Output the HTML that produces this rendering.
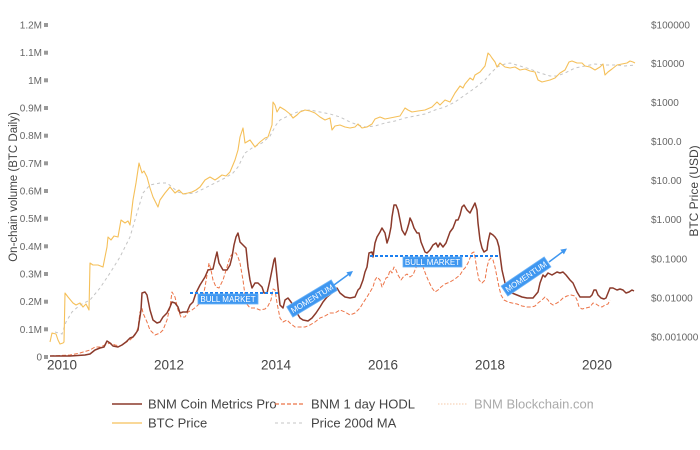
<!DOCTYPE html>
<html><head><meta charset="utf-8"><style>
html,body{margin:0;padding:0;background:#fff;}
svg{display:block;font-family:"Liberation Sans",Arial,sans-serif;}
</style></head><body>
<svg width="700" height="450" viewBox="0 0 700 450" xmlns="http://www.w3.org/2000/svg">
<defs><clipPath id="lc"><rect x="0" y="380" width="593" height="70"/></clipPath></defs>
<rect width="700" height="450" fill="#fff"/>

<!-- left ticks -->
<g font-size="10" fill="#666" text-anchor="end">
<text x="42" y="360.5">0</text>
<text x="42" y="332.8">0.1M</text>
<text x="42" y="305.2">0.2M</text>
<text x="42" y="277.5">0.3M</text>
<text x="42" y="249.8">0.4M</text>
<text x="42" y="222.2">0.5M</text>
<text x="42" y="194.5">0.6M</text>
<text x="42" y="166.8">0.7M</text>
<text x="42" y="139.2">0.8M</text>
<text x="42" y="111.5">0.9M</text>
<text x="42" y="83.8">1M</text>
<text x="42" y="56.2">1.1M</text>
<text x="42" y="28.5">1.2M</text>
</g>
<g fill="#999">
<rect x="44" y="355" width="4" height="4"/>
<rect x="44" y="327.3" width="4" height="4"/>
<rect x="44" y="299.7" width="4" height="4"/>
<rect x="44" y="272" width="4" height="4"/>
<rect x="44" y="244.3" width="4" height="4"/>
<rect x="44" y="216.7" width="4" height="4"/>
<rect x="44" y="189" width="4" height="4"/>
<rect x="44" y="161.3" width="4" height="4"/>
<rect x="44" y="133.7" width="4" height="4"/>
<rect x="44" y="106" width="4" height="4"/>
<rect x="44" y="78.3" width="4" height="4"/>
<rect x="44" y="50.7" width="4" height="4"/>
<rect x="44" y="23" width="4" height="4"/>
</g>
<text transform="translate(17,187) rotate(-90)" font-size="11.5" fill="#444" text-anchor="middle">On-chain volume (BTC Daily)</text>

<!-- right ticks -->
<g font-size="10" fill="#666">
<text x="651" y="28.5">$100000</text>
<text x="651" y="67">$10000</text>
<text x="651" y="106">$1000</text>
<text x="651" y="145">$100.0</text>
<text x="651" y="184">$10.00</text>
<text x="651" y="223">$1.000</text>
<text x="651" y="262.5">$0.1000</text>
<text x="651" y="301.5">$0.01000</text>
<text x="651" y="340.5">$0.001000</text>
</g>
<text transform="translate(698,191) rotate(-90)" font-size="12" fill="#444" text-anchor="middle">BTC Price (USD)</text>

<!-- x ticks -->
<g font-size="13.5" fill="#444" text-anchor="middle">
<text x="62" y="369.5">2010</text>
<text x="169" y="369.5">2012</text>
<text x="276" y="369.5">2014</text>
<text x="383" y="369.5">2016</text>
<text x="490" y="369.5">2018</text>
<text x="597" y="369.5">2020</text>
</g>

<!-- MA 200d -->
<polyline fill="none" stroke="#c4c4c4" stroke-width="1" stroke-dasharray="3,3" points="55,332 62,334 66,322 72,312 80,305 90,300 100,288 110,273 120,257 130,237 137,213 143,193 150,185 160,183 167,183 172,187 178,192 185,194 195,193 205,188 215,183 225,178 233,173 238,167 245,153 252,148 262,143 270,136 276,125 280,120 290,115 300,111 310,110 320,112 330,114 340,117 350,122 358,125 365,127 375,126 385,123 395,121 405,118 415,116 425,114 435,110 445,107 455,102 465,95 475,88 485,80 490,74 497,67 505,64 510,63 520,66 530,69 540,73 550,76 557,76 565,73 575,68 585,66 595,64 605,65 615,65 625,66 635,65"/>

<!-- BTC price -->
<polyline fill="none" stroke="#f5c05a" stroke-width="1.1" stroke-linejoin="round" points="50,342 52,333 56,334 58,340 60,344 63,343 64,342 65,293 68,297 73,303 76,305 80,303 83,307 86,304 88,308 89,310 90,263 93,265 98,265 103,267 107,247 108,237 111,240 114,236 118,237 121,220 125,223 128,221 130,225 133,200 136,183 139,163 142,173 144,171 147,177 150,188 153,197 156,203 158,207 160,200 165,193 170,187 175,193 179,190 183,194 188,193 192,192 196,190 200,187 205,180 210,177 215,180 218,178 222,175 226,176 230,172 235,160 238,150 240,137 243,128 245,143 250,140 255,147 260,142 265,138 268,137 272,125 273,102 275,105 277,112 280,107 285,110 290,114 293,118 297,115 300,112 305,110 310,111 315,113 320,117 325,120 330,118 332,130 335,126 340,125 345,127 350,128 355,127 358,124 362,128 367,127 372,124 375,119 380,117 385,119 390,118 395,117 400,116 405,108 408,110 412,112 418,111 425,110 432,107 437,102 440,105 445,100 450,102 455,93 460,86 463,88 465,84 470,78 473,80 475,75 480,72 485,66 488,53 490,55 492,58 495,62 497,67 500,63 505,67 510,68 515,67 520,70 525,69 530,71 535,72 538,80 542,82 546,81 550,80 555,78 560,73 565,70 569,62 572,61 577,63 582,63 585,66 590,67 595,70 600,67 603,64 605,75 608,72 612,69 617,65 622,64 627,63 630,61 633,62 635,63"/>

<!-- BNM 1 day HODL -->
<polyline fill="none" stroke="#ec7448" stroke-width="1" stroke-dasharray="4,2" stroke-linejoin="round" points="50,356 70,355 80,353 90,350 95,347 100,347 105,345 110,343 115,345 120,346 125,343 130,340 135,335 138,328 140,312 142,308 143,313 147,322 150,330 155,335 160,333 163,330 167,320 170,307 172,292 175,297 178,310 181,317 185,317 188,312 192,310 196,307 200,303 203,297 205,287 207,275 209,263 211,270 213,280 216,287 219,288 223,280 227,267 230,257 233,253 236,253 238,257 240,263 243,280 246,303 250,308 255,308 260,310 265,309 268,306 271,300 273,289 275,290 277,303 280,318 283,322 287,320 290,323 295,327 300,327 305,327 310,325 315,322 320,318 325,316 330,313 335,313 340,310 345,312 350,315 355,313 360,308 363,303 367,297 370,292 373,287 375,280 377,277 380,280 382,287 384,283 386,278 388,277 390,270 392,273 394,267 396,270 398,275 401,280 404,276 407,274 410,277 413,275 415,270 418,263 420,262 423,267 426,275 429,282 432,288 435,292 438,290 441,287 445,284 450,282 455,279 460,275 463,270 465,268 468,263 470,258 472,253 474,252 475,257 477,270 479,280 482,283 485,280 487,267 489,260 491,258 493,260 495,267 497,277 499,287 501,295 504,300 508,302 512,303 517,304 522,306 527,307 532,307 535,306 538,303 542,300 545,297 548,300 550,303 553,305 557,303 560,301 563,298 567,296 571,295 575,296 577,300 579,307 582,309 586,308 590,307 593,303 596,304 599,306 602,307 605,305 608,304 610,300"/>

<!-- BNM Coin Metrics Pro -->
<polyline fill="none" stroke="#8b3a2b" stroke-width="1.5" stroke-linejoin="round" points="50,356 70,356 85,355 90,354 95,350 100,348 104,347 107,341 110,343 113,346 118,347 122,345 126,342 130,338 133,337 136,333 138,330 139,323 141,310 142,293 145,292 147,295 150,310 153,320 157,323 160,322 163,317 167,313 170,307 172,302 175,303 178,307 180,313 183,312 187,312 190,305 193,302 196,293 200,285 205,277 208,270 213,269 215,260 217,252 219,263 223,270 227,270 230,265 232,257 234,245 236,237 238,233 240,242 243,245 246,248 248,267 250,280 252,288 255,283 258,283 262,287 264,293 267,293 270,280 272,270 274,260 275,258 276,267 278,287 280,305 283,308 285,300 288,298 291,302 294,307 297,313 300,318 303,320 308,321 312,318 316,313 320,307 323,302 327,297 333,292 337,288 340,293 345,297 350,298 355,297 358,290 360,288 363,280 365,272 367,267 369,253 372,252 373,257 375,243 377,237 380,232 382,228 385,233 387,243 389,237 391,227 392,217 394,205 396,205 398,210 400,220 402,230 405,235 407,230 409,223 410,218 412,222 414,228 417,233 419,233 421,242 423,247 425,252 427,253 430,250 433,245 436,243 438,247 440,243 443,247 446,243 450,232 453,228 456,220 458,220 460,215 462,207 464,205 467,210 470,213 473,207 475,203 477,210 478,223 480,240 482,248 484,252 487,250 488,242 490,233 493,235 495,237 497,240 499,247 500,255 502,270 505,283 508,290 512,293 517,295 522,297 527,298 533,298 538,292 540,283 543,275 545,277 548,273 552,275 557,272 560,273 563,272 566,275 570,280 573,283 577,292 580,297 583,297 587,297 590,297 592,295 594,290 596,290 598,295 601,298 604,299 606,298 608,293 610,288 613,288 617,290 620,289 623,290 626,293 629,292 632,290 634,291"/>

<!-- annotations -->
<line x1="190" y1="293" x2="279" y2="293" stroke="#1a7ff0" stroke-width="2" stroke-dasharray="3,2"/>
<rect x="198" y="294" width="60" height="10" fill="#3f97f0" stroke="#6cb2f6" stroke-width="0.8"/>
<text x="228" y="302" font-size="8" fill="#fff" text-anchor="middle">BULL MARKET</text>

<line x1="370" y1="256" x2="500" y2="256" stroke="#1a7ff0" stroke-width="2" stroke-dasharray="3,2"/>
<rect x="403" y="257" width="59" height="10" fill="#3f97f0" stroke="#6cb2f6" stroke-width="0.8"/>
<text x="432.5" y="265" font-size="8" fill="#fff" text-anchor="middle">BULL MARKET</text>

<g transform="translate(312,298.5) rotate(-31)">
<rect x="-26" y="-6" width="52" height="12" fill="#3f97f0" stroke="#6cb2f6" stroke-width="0.8"/>
<text x="0" y="3" font-size="8" fill="#fff" text-anchor="middle">MOMENTUM</text>
</g>
<line x1="334" y1="285" x2="349" y2="274" stroke="#3f97f0" stroke-width="1.5"/>
<polygon points="353,271 350,277 346.4,272.2" fill="#3f97f0"/>

<g transform="translate(526,276.5) rotate(-34)">
<rect x="-26" y="-6" width="52" height="12" fill="#3f97f0" stroke="#6cb2f6" stroke-width="0.8"/>
<text x="0" y="3" font-size="8" fill="#fff" text-anchor="middle">MOMENTUM</text>
</g>
<line x1="549" y1="262" x2="563" y2="251.5" stroke="#3f97f0" stroke-width="1.5"/>
<polygon points="567,248.5 563.9,254.4 560.3,249.6" fill="#3f97f0"/>

<!-- legend -->
<g clip-path="url(#lc)" font-size="13" fill="#444">
<line x1="112" y1="404" x2="142" y2="404" stroke="#8b3a2b" stroke-width="1.5"/>
<text x="148" y="408.5">BNM Coin Metrics Pro</text>
<line x1="275" y1="404" x2="305" y2="404" stroke="#ec7448" stroke-width="1.2" stroke-dasharray="4,2"/>
<text x="311" y="408.5">BNM 1 day HODL</text>
<line x1="438" y1="404" x2="468" y2="404" stroke="#f6c9a8" stroke-width="1" stroke-dasharray="1.5,1.5"/>
<text x="474" y="408.5" fill="#aaa">BNM Blockchain.com</text>
<line x1="112" y1="423" x2="142" y2="423" stroke="#f5c05a" stroke-width="1.2"/>
<text x="148" y="427.5">BTC Price</text>
<line x1="275" y1="423" x2="305" y2="423" stroke="#c4c4c4" stroke-width="1" stroke-dasharray="3,3"/>
<text x="311" y="427.5">Price 200d MA</text>
</g>
</svg>
</body></html>
